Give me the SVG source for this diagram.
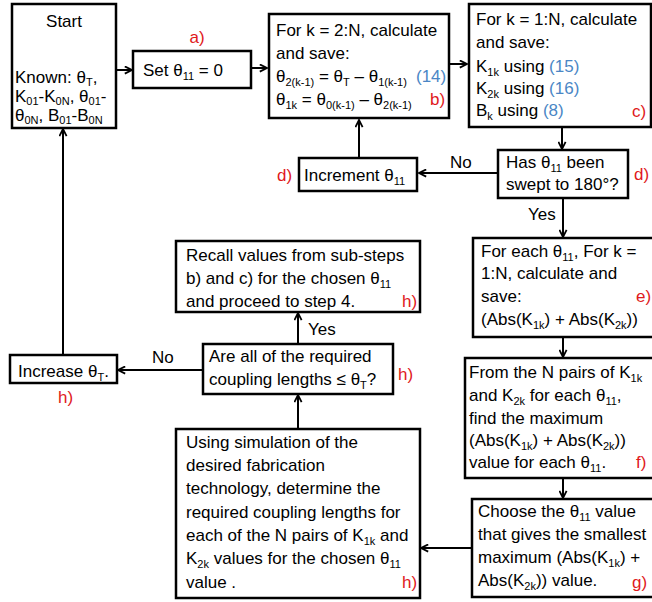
<svg xmlns="http://www.w3.org/2000/svg" width="652" height="602" viewBox="0 0 652 602">
<style>
text{font-family:"Liberation Sans",Arial,sans-serif;font-size:17px;fill:#000}
.b{fill:#fff;stroke:#000;stroke-width:2.5}
.s{font-size:11px}
.r{fill:#e0191b}
.u{fill:#4a86c5}
.c{fill:none;stroke:#000;stroke-width:2}
</style>
<defs>
<marker id="ar" viewBox="0 0 10 10" refX="9" refY="5" markerWidth="9" markerHeight="9" markerUnits="userSpaceOnUse" orient="auto">
<path d="M1,1 L9,5 L1,9" fill="none" stroke="#000" stroke-width="2"/>
</marker>
</defs>
<rect width="652" height="602" fill="#fff"/>
<g id="connectors">
<path class="c" marker-end="url(#ar)" d="M116,70 H132"/>
<path class="c" marker-end="url(#ar)" d="M251,68 H267"/>
<path class="c" marker-end="url(#ar)" d="M449,64 H467"/>
<path class="c" marker-end="url(#ar)" d="M562,127 V149"/>
<path class="c" marker-end="url(#ar)" d="M498,173 H419"/>
<path class="c" marker-end="url(#ar)" d="M359,158 V120"/>
<path class="c" marker-end="url(#ar)" d="M563,198 V237"/>
<path class="c" marker-end="url(#ar)" d="M563,337 V357"/>
<path class="c" marker-end="url(#ar)" d="M563,478 V498"/>
<path class="c" marker-end="url(#ar)" d="M472,548 H421"/>
<path class="c" marker-end="url(#ar)" d="M298,429 V395"/>
<path class="c" marker-end="url(#ar)" d="M298,344 V313"/>
<path class="c" marker-end="url(#ar)" d="M203,370 H118"/>
<path class="c" marker-end="url(#ar)" d="M63,355 V129"/>
<text x="450" y="168">No</text>
<text x="528" y="220">Yes</text>
<text x="308" y="335">Yes</text>
<text x="152" y="363">No</text>
</g>
<g id="start">
<rect class="b" x="12" y="4" width="104" height="124"/>
<text x="64" y="27" text-anchor="middle">Start</text>
<text x="15" y="83">Known: θ<tspan class="s" dy="3">T</tspan><tspan dy="-3">,</tspan></text>
<text x="15" y="102">K<tspan class="s" dy="3">01</tspan><tspan dy="-3">-K</tspan><tspan class="s" dy="3">0N</tspan><tspan dy="-3">, θ</tspan><tspan class="s" dy="3">01</tspan><tspan dy="-3">-</tspan></text>
<text x="15" y="121">θ<tspan class="s" dy="3">0N</tspan><tspan dy="-3">, B</tspan><tspan class="s" dy="3">01</tspan><tspan dy="-3">-B</tspan><tspan class="s" dy="3">0N</tspan></text>
</g>
<g id="a">
<text class="r" x="197" y="43" text-anchor="middle">a)</text>
<rect class="b" x="133" y="51" width="118" height="37"/>
<text x="143" y="76">Set θ<tspan class="s" dy="4">11</tspan><tspan dy="-4"> = 0</tspan></text>
</g>
<g id="b">
<rect class="b" x="269" y="14" width="180" height="104"/>
<text x="276" y="36">For k = 2:N, calculate</text>
<text x="276" y="59">and save:</text>
<text x="276" y="82">θ<tspan class="s" dy="4">2(k-1)</tspan><tspan dy="-4"> = θ</tspan><tspan class="s" dy="4">T</tspan><tspan dy="-4"> – θ</tspan><tspan class="s" dy="4">1(k-1)</tspan></text>
<text class="u" x="416" y="82">(14)</text>
<text x="276" y="105">θ<tspan class="s" dy="4">1k</tspan><tspan dy="-4"> = θ</tspan><tspan class="s" dy="4">0(k-1)</tspan><tspan dy="-4"> – θ</tspan><tspan class="s" dy="4">2(k-1)</tspan></text>
<text class="r" x="430" y="105">b)</text>
</g>
<g id="c">
<rect class="b" x="469" y="4" width="182" height="123"/>
<text x="476" y="25">For k = 1:N, calculate</text>
<text x="476" y="48">and save:</text>
<text x="476" y="72">K<tspan class="s" dy="4">1k</tspan><tspan dy="-4"> using </tspan><tspan class="u">(15)</tspan></text>
<text x="476" y="94">K<tspan class="s" dy="4">2k</tspan><tspan dy="-4"> using </tspan><tspan class="u">(16)</tspan></text>
<text x="476" y="116">B<tspan class="s" dy="4">k</tspan><tspan dy="-4"> using </tspan><tspan class="u">(8)</tspan></text>
<text class="r" x="632" y="117">c)</text>
</g>
<g id="d-decision">
<rect class="b" x="498" y="150" width="130" height="48"/>
<text x="506" y="168">Has θ<tspan class="s" dy="4">11</tspan><tspan dy="-4"> been</tspan></text>
<text x="506" y="190">swept to 180°?</text>
<text class="r" x="634" y="180">d)</text>
</g>
<g id="d-increment">
<rect class="b" x="299" y="158" width="118" height="33"/>
<text x="304" y="181">Increment θ<tspan class="s" dy="4">11</tspan></text>
<text class="r" x="277" y="181">d)</text>
</g>
<g id="e">
<rect class="b" x="473" y="238" width="190" height="99"/>
<text x="481" y="257">For each θ<tspan class="s" dy="4">11</tspan><tspan dy="-4">, For k =</tspan></text>
<text x="481" y="279">1:N, calculate and</text>
<text x="481" y="302">save:</text>
<text x="481" y="325">(Abs(K<tspan class="s" dy="4">1k</tspan><tspan dy="-4">) + Abs(K</tspan><tspan class="s" dy="4">2k</tspan><tspan dy="-4">))</tspan></text>
<text class="r" x="636" y="302">e)</text>
</g>
<g id="f">
<rect class="b" x="465" y="358" width="200" height="120"/>
<text x="469" y="378">From the N pairs of K<tspan class="s" dy="4">1k</tspan></text>
<text x="469" y="401">and K<tspan class="s" dy="4">2k</tspan><tspan dy="-4"> for each θ</tspan><tspan class="s" dy="4">11</tspan><tspan dy="-4">,</tspan></text>
<text x="469" y="424">find the maximum</text>
<text x="469" y="446">(Abs(K<tspan class="s" dy="4">1k</tspan><tspan dy="-4">) + Abs(K</tspan><tspan class="s" dy="4">2k</tspan><tspan dy="-4">))</tspan></text>
<text x="469" y="468">value for each θ<tspan class="s" dy="4">11</tspan><tspan dy="-4">.</tspan></text>
<text class="r" x="636" y="468">f)</text>
</g>
<g id="g">
<rect class="b" x="472" y="499" width="190" height="98"/>
<text x="478" y="517">Choose the θ<tspan class="s" dy="4">11</tspan><tspan dy="-4"> value</tspan></text>
<text x="478" y="540">that gives the smallest</text>
<text x="478" y="563">maximum (Abs(K<tspan class="s" dy="4">1k</tspan><tspan dy="-4">) +</tspan></text>
<text x="478" y="586">Abs(K<tspan class="s" dy="4">2k</tspan><tspan dy="-4">)) value.</tspan></text>
<text class="r" x="632" y="588">g)</text>
</g>
<g id="h-simulation">
<rect class="b" x="176" y="429" width="244" height="169"/>
<text x="186" y="448">Using simulation of the</text>
<text x="186" y="471">desired fabrication</text>
<text x="186" y="494">technology, determine the</text>
<text x="186" y="518">required coupling lengths for</text>
<text x="186" y="541">each of the N pairs of K<tspan class="s" dy="4">1k</tspan><tspan dy="-4"> and</tspan></text>
<text x="186" y="564">K<tspan class="s" dy="4">2k</tspan><tspan dy="-4"> values for the chosen θ</tspan><tspan class="s" dy="4">11</tspan></text>
<text x="186" y="588">value .</text>
<text class="r" x="402" y="588">h)</text>
</g>
<g id="h-check">
<rect class="b" x="203" y="344" width="190" height="50"/>
<text x="209" y="362">Are all of the required</text>
<text x="209" y="385">coupling lengths ≤ θ<tspan class="s" dy="4">T</tspan><tspan dy="-4">?</tspan></text>
<text class="r" x="398" y="380">h)</text>
</g>
<g id="h-recall">
<rect class="b" x="176" y="241" width="244" height="71"/>
<text x="186" y="261">Recall values from sub-steps</text>
<text x="186" y="284">b) and c)  for the chosen θ<tspan class="s" dy="4">11</tspan></text>
<text x="186" y="307">and proceed to step 4.</text>
<text class="r" x="402" y="307">h)</text>
</g>
<g id="h-increase">
<rect class="b" x="10" y="355" width="107" height="28"/>
<text x="18" y="377">Increase θ<tspan class="s" dy="4">T</tspan><tspan dy="-4">.</tspan></text>
<text class="r" x="58" y="403">h)</text>
</g>
</svg>
